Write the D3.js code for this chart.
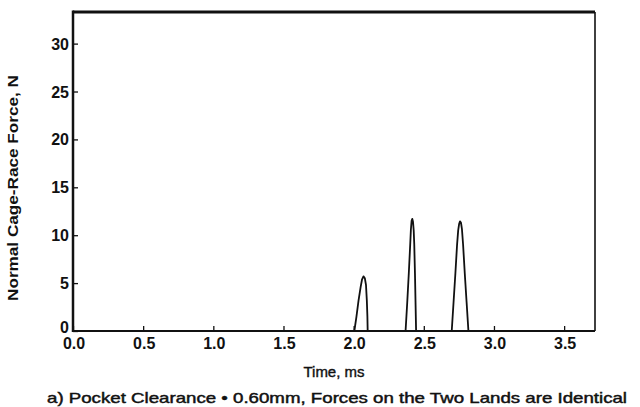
<!DOCTYPE html>
<html>
<head>
<meta charset="utf-8">
<script src="https://cdn.jsdelivr.net/npm/d3@7"></script>
<style>
  body { margin: 0; background: #fff; }
  svg text { font-family: "Liberation Sans", Arial, sans-serif; fill: #111; }
</style>
</head>
<body>
<svg id="chart" width="640" height="407"></svg>
<script>
// Time (ms) and normal force (N)
const timeMs = [0, 2.0, 2.005, 2.02, 2.035, 2.05, 2.06, 2.07, 2.08, 2.088, 2.094, 2.098, 2.10,
  2.37, 2.382, 2.393, 2.403, 2.408, 2.413, 2.418, 2.423, 2.428, 2.432, 2.437, 2.441, 2.445,
  2.699, 2.712, 2.725, 2.737, 2.745, 2.752, 2.758, 2.765, 2.772, 2.78, 2.792, 2.805, 2.818, 3.72];
const forceN = [0, 0, 0, 1.5, 3.2, 4.6, 5.4, 5.7, 5.5, 4.8, 3.2, 1.5, 0,
  0, 3, 6, 9, 10.6, 11.5, 11.7, 11.4, 10.5, 9, 6, 3, 0,
  0, 3, 6, 9, 10.5, 11.2, 11.45, 11.3, 10.6, 9, 6, 3, 0, 0];
const xTicks = [0, 0.5, 1.0, 1.5, 2.0, 2.5, 3.0, 3.5];
const yTicks = [0, 5, 10, 15, 20, 25, 30];

const svg = d3.select('#chart');
const mLeft = 73, mRight = 595, mTop = 12, mBottom = 331;

const x = d3.scaleLinear().domain([0, 3.72]).range([mLeft, mRight]);
const y = d3.scaleLinear().domain([0, 33.3]).range([mBottom, mTop]);

// Ticks pointing into the plot
svg.append('g')
  .attr('transform', `translate(0,${mBottom})`)
  .call(d3.axisTop(x).tickValues(xTicks).tickSize(5).tickFormat(''))
  .call(g => g.select('.domain').remove())
  .selectAll('line').attr('stroke', '#111').attr('stroke-width', 1.3);

svg.append('g')
  .attr('transform', `translate(${mLeft},0)`)
  .call(d3.axisRight(y).tickValues(yTicks).tickSize(5).tickFormat(''))
  .call(g => g.select('.domain').remove())
  .selectAll('line').attr('stroke', '#111').attr('stroke-width', 1.3);

// Tick labels
svg.append('g').selectAll('text')
  .data(xTicks)
  .join('text')
  .attr('x', d => x(d) + 1)
  .attr('y', mBottom + 18)
  .attr('text-anchor', 'middle')
  .attr('font-size', '16px')
  .attr('font-weight', 'bold')
  .text(d => d.toFixed(1));

svg.append('g').selectAll('text')
  .data(yTicks)
  .join('text')
  .attr('x', mLeft - 4)
  .attr('y', d => y(d) + (d === 0 ? 2 : 6))
  .attr('text-anchor', 'end')
  .attr('font-size', '16px')
  .attr('font-weight', 'bold')
  .text(d => d);

// Curve
const line = d3.line().x((d, i) => x(timeMs[i])).y(d => y(d));
svg.append('path')
  .datum(forceN)
  .attr('d', line)
  .attr('fill', 'none')
  .attr('stroke', '#111')
  .attr('stroke-width', 1.8)
  .attr('stroke-linejoin', 'round');

// Frame: heavier top and left, like the scan
svg.append('line').attr('x1', mLeft).attr('x2', mRight).attr('y1', mTop).attr('y2', mTop)
  .attr('stroke', '#111').attr('stroke-width', 3);
svg.append('line').attr('x1', mLeft).attr('x2', mLeft).attr('y1', mTop - 1.5).attr('y2', mBottom + 1)
  .attr('stroke', '#111').attr('stroke-width', 2.5);
svg.append('line').attr('x1', mRight).attr('x2', mRight).attr('y1', mTop).attr('y2', mBottom)
  .attr('stroke', '#111').attr('stroke-width', 1.6);
svg.append('line').attr('x1', mLeft).attr('x2', mRight).attr('y1', mBottom).attr('y2', mBottom)
  .attr('stroke', '#111').attr('stroke-width', 2.2);

// Axis titles
svg.append('text')
  .attr('x', 334).attr('y', 377)
  .attr('text-anchor', 'middle')
  .attr('font-size', '15px')
  .attr('stroke', '#111').attr('stroke-width', 0.4)
  .text('Time, ms');

svg.append('text')
  .attr('transform', 'translate(18,188) rotate(-90)')
  .attr('text-anchor', 'middle')
  .attr('font-size', '14px')
  .attr('font-weight', 'bold')
  .attr('textLength', 226)
  .attr('lengthAdjust', 'spacingAndGlyphs')
  .text('Normal Cage-Race Force, N');

svg.append('text')
  .attr('x', 47).attr('y', 403)
  .attr('font-size', '14.5px')
  .attr('stroke', '#111').attr('stroke-width', 0.45)
  .attr('textLength', 580)
  .attr('lengthAdjust', 'spacingAndGlyphs')
  .text('a) Pocket Clearance \u2022 0.60mm, Forces on the Two Lands are Identical');
</script>
</body>
</html>
